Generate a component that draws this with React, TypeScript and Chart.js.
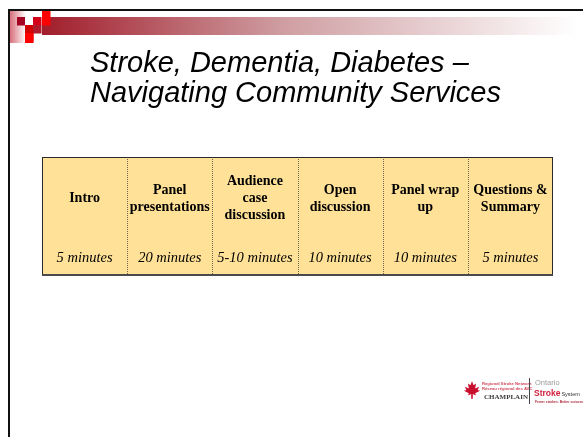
import React, { useEffect, useRef } from "react";
import { Chart, registerables } from "chart.js";

Chart.register(...registerables);

// ---- data ----
const categories = ["Intro", "Panel presentations", "Audience case discussion", "Open discussion", "Panel wrap up", "Questions & Summary"];
const headerLines = [["Intro"], ["Panel", "presentations"], ["Audience", "case", "discussion"], ["Open", "discussion"], ["Panel wrap", "up"], ["Questions &", "Summary"]];
const durations = ["5 minutes", "20 minutes", "5-10 minutes", "10 minutes", "10 minutes", "5 minutes"];
const cellFill = [1, 1, 1, 1, 1, 1];
const titleLines = ["Stroke, Dementia, Diabetes –", "Navigating Community Services"];
const logoLeft = ["Regional Stroke Network", "Réseau régional des AVC", "CHAMPLAIN"];
const logoRight = ["Ontario", "Stroke", "System", "Fewer strokes. Better outcomes."];

const W = 583;
const H = 437;

const slidePlugin = {
  id: "slideDecor",
  beforeDraw(chart: any) {
    const ctx = chart.ctx;
    ctx.save();
    ctx.fillStyle = "#ffffff";
    ctx.fillRect(0, 0, W, H);
    // left fade
    const g2 = ctx.createLinearGradient(10, 0, 26, 0);
    g2.addColorStop(0, "#d8707c");
    g2.addColorStop(1, "#ffffff");
    ctx.fillStyle = g2;
    ctx.fillRect(10, 11, 16, 32);
    // gradient band
    const g = ctx.createLinearGradient(42, 0, 578, 0);
    g.addColorStop(0, "#a11d2b");
    g.addColorStop(0.45, "#cf9ea2");
    g.addColorStop(1, "#ffffff");
    ctx.fillStyle = g;
    ctx.fillRect(42, 17, 536, 18);
    // squares
    const sq = [
      [17, 17, "#a50021"],
      [25, 17, "#ffffff"],
      [33, 17, "#d4001a"],
      [42, 11, "#ff0000"],
      [42, 17, "#ff0000"],
      [25, 25, "#d00000"],
      [33, 25, "#b01a2c"],
      [25, 33, "#ff0000"],
    ];
    sq.forEach(([x, y, c]: any) => {
      ctx.fillStyle = c;
      ctx.fillRect(x, y, 8.5, 8.5);
    });
    ctx.fillStyle = "#ff0000";
    ctx.fillRect(25, 33, 8.5, 10);
    // slide borders
    ctx.fillStyle = "#111111";
    ctx.fillRect(8, 9, W - 8, 2);
    ctx.fillRect(8, 9, 2, H - 9);
    // title
    ctx.fillStyle = "#000000";
    ctx.font = "italic 29px 'Liberation Sans', Arial, sans-serif";
    ctx.textBaseline = "alphabetic";
    ctx.textAlign = "left";
    ctx.fillText(titleLines[0], 90, 72);
    ctx.fillText(titleLines[1], 90, 102);
    ctx.restore();
  },
  afterDatasetsDraw(chart: any) {
    const ctx = chart.ctx;
    const xs = chart.scales.x;
    const a = chart.chartArea;
    ctx.save();
    // dotted dividers
    ctx.strokeStyle = "#6e6650";
    ctx.lineWidth = 1;
    ctx.setLineDash([1, 1]);
    for (let i = 0; i < categories.length - 1; i++) {
      const x = Math.round((xs.getPixelForValue(i) + xs.getPixelForValue(i + 1)) / 2) + 0.5;
      ctx.beginPath();
      ctx.moveTo(x, a.top);
      ctx.lineTo(x, a.bottom);
      ctx.stroke();
    }
    ctx.setLineDash([]);
    // outer border
    ctx.strokeStyle = "#2a2a2a";
    ctx.lineWidth = 1;
    ctx.strokeRect(a.left + 0.5, a.top + 0.5, a.right - a.left - 1, a.bottom - a.top - 1);
    ctx.fillStyle = "#4a4a4a";
    ctx.fillRect(a.left, a.bottom - 2, a.right - a.left, 2);
    // texts
    ctx.fillStyle = "#000000";
    ctx.textAlign = "center";
    ctx.textBaseline = "middle";
    const lh = 17;
    const headCy = a.top + (a.bottom - a.top) * 0.35;
    categories.forEach((_, i) => {
      const cx = xs.getPixelForValue(i);
      const lines = headerLines[i];
      ctx.font = "bold 14px 'Liberation Serif', 'Times New Roman', serif";
      const start = headCy - ((lines.length - 1) * lh) / 2;
      lines.forEach((ln, j) => ctx.fillText(ln, cx, start + j * lh));
      ctx.font = "italic 14.5px 'Liberation Serif', 'Times New Roman', serif";
      ctx.fillText(durations[i], cx, a.top + (a.bottom - a.top) * 0.85);
    });
    ctx.restore();
  },
  afterDraw(chart: any) {
    const ctx = chart.ctx;
    ctx.save();
    // maple leaf
    ctx.fillStyle = "#c8102e";
    const lx = 472, ly = 390;
    const pts = [
      [0, -11], [2, -6], [5, -8], [4, -2], [9, -4], [7, 0], [10, 1], [4, 4], [5, 7], [1, 5], [1, 11],
      [-1, 11], [-1, 5], [-5, 7], [-4, 4], [-10, 1], [-7, 0], [-9, -4], [-4, -2], [-5, -8], [-2, -6],
    ];
    ctx.beginPath();
    pts.forEach(([x, y], k) => (k ? ctx.lineTo(lx + x * 0.8, ly + y * 0.8) : ctx.moveTo(lx + x * 0.8, ly + y * 0.8)));
    ctx.closePath();
    ctx.fill();
    ctx.textAlign = "left";
    ctx.textBaseline = "alphabetic";
    ctx.fillStyle = "#d0485a";
    ctx.font = "bold 4.2px 'Liberation Sans', Arial, sans-serif";
    ctx.fillText(logoLeft[0], 482, 385);
    ctx.fillText(logoLeft[1], 482, 390);
    ctx.fillStyle = "#3a3a3a";
    ctx.font = "bold 7px 'Liberation Serif', serif";
    ctx.fillText(logoLeft[2], 484, 399);
    ctx.fillStyle = "#444";
    ctx.fillRect(529, 378, 1, 26);
    ctx.fillStyle = "#9a9a9a";
    ctx.font = "7.5px 'Liberation Sans', Arial, sans-serif";
    ctx.fillText(logoRight[0], 535, 385);
    ctx.fillStyle = "#d2203f";
    ctx.font = "bold 8.5px 'Liberation Sans', Arial, sans-serif";
    ctx.fillText(logoRight[1], 534, 396);
    const sw = ctx.measureText(logoRight[1]).width;
    ctx.fillStyle = "#333";
    ctx.font = "5.5px 'Liberation Sans', Arial, sans-serif";
    ctx.fillText(logoRight[2], 535 + sw, 396);
    ctx.fillStyle = "#b03040";
    ctx.font = "bold 3.4px 'Liberation Sans', Arial, sans-serif";
    ctx.fillText(logoRight[3], 535, 403);
    ctx.restore();
  },
};

export default function App() {
  const ref = useRef<HTMLCanvasElement>(null);
  useEffect(() => {
    if (!ref.current) return;
    const chart = new Chart(ref.current, {
      type: "bar",
      data: {
        labels: categories,
        datasets: [
          {
            data: cellFill,
            backgroundColor: "#ffe197",
            borderWidth: 0,
            barPercentage: 1,
            categoryPercentage: 1,
          },
        ],
      },
      options: {
        responsive: false,
        animation: false,
        events: [],
        layout: { padding: { left: 42, top: 157, right: 30, bottom: 161 } },
        plugins: { legend: { display: false }, tooltip: { enabled: false }, title: { display: false } },
        scales: {
          x: { display: false },
          y: { display: false, min: 0, max: 1 },
        },
      },
      plugins: [slidePlugin],
    });
    return () => chart.destroy();
  }, []);
  return (
    <div style={{ position: "absolute", left: 0, top: 0, width: W, height: H, background: "#fff" }}>
      <canvas ref={ref} width={W} height={H} style={{ display: "block" }} />
    </div>
  );
}
